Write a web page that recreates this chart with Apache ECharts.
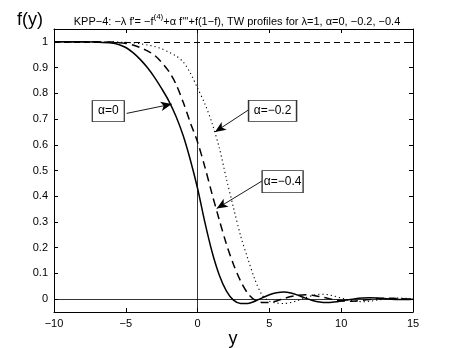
<!DOCTYPE html>
<html><head><meta charset="utf-8">
<script src="https://cdn.jsdelivr.net/npm/echarts@6/dist/echarts.min.js"></script>
<style>html,body{margin:0;padding:0;background:#fff}#c{width:464px;height:348px}</style>
</head><body><div id="c"></div>
<script>
// ---- data ----
const xs = [-10,-9,-8,-7,-6,-5.5,-5,-4.5,-4,-3.5,-3,-2.5,-2,-1.5,-1,-0.5,0,0.5,1,1.5,2,2.5,3,3.5,4,4.5,5,5.5,6,6.5,7,7.5,8,8.5,9,9.5,10,10.5,11,11.5,12,12.5,13,13.5,14,14.5,15];
// solid curve (alpha = 0)
const fAlpha0 = [1,1,1,0.999,0.996,0.99,0.978,0.958,0.932,0.9,0.862,0.818,0.77,0.71,0.635,0.54,0.43,0.3,0.185,0.095,0.032,-0.004,-0.017,-0.017,-0.008,0.005,0.017,0.025,0.028,0.024,0.015,0.004,-0.005,-0.011,-0.013,-0.011,-0.007,-0.002,0.002,0.004,0.005,0.004,0.002,0,-0.001,-0.001,0];
// dashed curve
const fDashed = [1,1,1,1,0.999,0.997,0.994,0.988,0.978,0.965,0.948,0.92,0.885,0.835,0.765,0.685,0.61,0.515,0.41,0.31,0.215,0.135,0.07,0.022,-0.004,-0.013,-0.013,-0.007,0.002,0.01,0.015,0.017,0.015,0.01,0.004,-0.002,-0.006,-0.008,-0.007,-0.004,-0.001,0.002,0.003,0.003,0.002,0.001,0];
// dotted curve
const fDotted = [1,1,1,1,1,0.999,0.998,0.996,0.993,0.988,0.982,0.973,0.96,0.945,0.922,0.878,0.82,0.76,0.685,0.59,0.47,0.355,0.245,0.157,0.075,0.015,-0.008,-0.015,-0.017,-0.013,-0.005,0.005,0.014,0.019,0.018,0.012,0.004,-0.003,-0.008,-0.01,-0.008,-0.004,0,0.003,0.004,0.003,0.001];
const xTicks = [-10,-5,0,5,10,15];
const yTicks = [0,0.1,0.2,0.3,0.4,0.5,0.6,0.7,0.8,0.9,1];
const labelTexts = ['α=0','α=−0.2','α=−0.4'];
// annotation anchors in data coordinates: box centre, arrow start, arrow tip
const boxCentres = [[-6.22,0.731],[5.22,0.732],[5.92,0.457]];
const arrowStarts = [[-4.94,0.722],[3.53,0.735],[4.51,0.46]];
const arrowTips = [[-1.8,0.758],[1.21,0.65],[1.33,0.352]];
const boxSizes = [[32,21],[48,21],[41,22]];

const pairs = ys => xs.map((x,i)=>[x,ys[i]]);
const fmt = v => String(Math.round(v*10)/10).replace('-', '−');
const FONT = 'Liberation Sans, Arial, sans-serif';

const chart = echarts.init(document.getElementById('c'));
const axisCommon = {
  type:'value', axisLine:{show:true, onZero:false, lineStyle:{color:'#000', width:1}},
  splitLine:{show:false}
};
chart.setOption({
  animation:false,
  backgroundColor:'#fff',
  title:{
    text:'{a|KPP−4: −λ f\'= −f}{s|(4)}{a|+α f\'\'\'+f(1−f), TW profiles for λ=1, α=0, −0.2, −0.4}',
    left:232, top:8, textAlign:'center',
    textStyle:{fontWeight:'normal', rich:{
      a:{fontFamily:FONT, fontSize:11, fontWeight:'normal', color:'#000', verticalAlign:'bottom', lineHeight:14},
      s:{fontFamily:FONT, fontSize:8, fontWeight:'normal', color:'#000', verticalAlign:'top', lineHeight:14, padding:[0,0,6,0]}
    }}
  },
  grid:{left:54, right:51, top:29, bottom:36},
  xAxis:[
    Object.assign({}, axisCommon, {min:-10, max:15, position:'bottom',
      axisTick:{show:true, inside:true, length:4, customValues:xTicks, lineStyle:{color:'#000'}},
      axisLabel:{show:true, customValues:xTicks, formatter:fmt, color:'#000', fontSize:11, fontFamily:FONT, margin:6}}),
    Object.assign({}, axisCommon, {min:-10, max:15, position:'top',
      axisTick:{show:true, inside:true, length:4, customValues:xTicks, lineStyle:{color:'#000'}},
      axisLabel:{show:false}})
  ],
  yAxis:[
    Object.assign({}, axisCommon, {min:-0.05, max:1.05, position:'left',
      axisTick:{show:true, inside:true, length:4, customValues:yTicks, lineStyle:{color:'#000'}},
      axisLabel:{show:true, customValues:yTicks, formatter:fmt, color:'#000', fontSize:11, fontFamily:FONT, margin:6}}),
    Object.assign({}, axisCommon, {min:-0.05, max:1.05, position:'right',
      axisTick:{show:true, inside:true, length:4, customValues:yTicks, lineStyle:{color:'#000'}},
      axisLabel:{show:false}})
  ],
  graphic:[
    {type:'text', left:17, top:11, style:{text:'f(y)', fontSize:18, fontFamily:FONT, fill:'#000'}},
    {type:'text', x:233, y:339, style:{text:'y', fontSize:18, fontFamily:FONT, fill:'#000', align:'center', verticalAlign:'middle'}}
  ],
  series:[
    {type:'line', name:'α=0', data:pairs(fAlpha0), showSymbol:false, smooth:0.3,
     lineStyle:{color:'#000', width:1.5}, z:3,
     markLine:{silent:true, symbol:['none','none'], label:{show:false}, animation:false,
       data:[
         {yAxis:0, lineStyle:{color:'#000', width:0.8, type:'solid'}},
         {xAxis:0, lineStyle:{color:'#000', width:0.8, type:'solid'}},
         {yAxis:1, lineStyle:{color:'#000', width:1, type:[6,4]}}
       ]}},
    {type:'line', name:'dashed', data:pairs(fDashed), showSymbol:false, smooth:0.3,
     lineStyle:{color:'#000', width:1.5, type:[8,5]}, z:3},
    {type:'line', name:'dotted', data:pairs(fDotted), showSymbol:false, smooth:0.3,
     lineStyle:{color:'#000', width:1.1, type:[1.2,3]}, z:3},
    {type:'line', name:'annotations', data:[], z:5,
     markLine:{silent:true, animation:false, label:{show:false},
       data: arrowStarts.map((s,i)=>[
         {coord:s, symbol:'none', lineStyle:{color:'#000', width:0.9, type:'solid'}},
         {coord:arrowTips[i], symbol:'arrow', symbolSize:[7,11]}
       ])},
     markPoint:{silent:true, animation:false,
       data: boxCentres.map((c,i)=>({
         coord:c, symbol:'rect', symbolSize:boxSizes[i],
         itemStyle:{color:'#fff', borderColor:'#333', borderWidth:1},
         label:{show:true, position:'inside', formatter:labelTexts[i], color:'#000', fontSize:12, fontFamily:FONT}
       }))}}
  ]
});
</script></body></html>
